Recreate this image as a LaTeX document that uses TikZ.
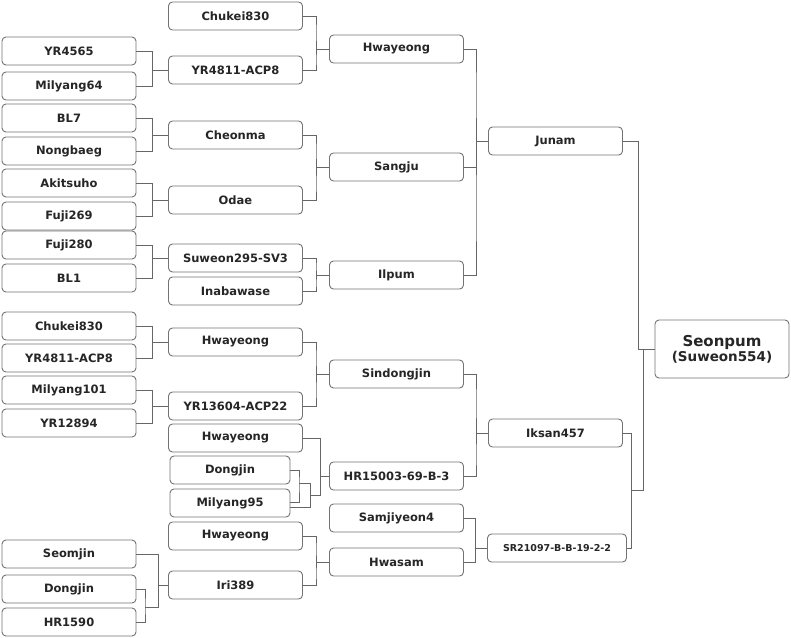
\documentclass[tikz,border=0pt]{standalone}
\usepackage{fontspec}
\setmainfont{DejaVu Sans}
\usetikzlibrary{calc}
\begin{document}
\begin{tikzpicture}[x=1pt,y=-1pt,
  box/.style={draw=black!55,line width=0.9pt,rounded corners=4pt,minimum width=134pt,minimum height=28pt,inner sep=0pt,font=\fontsize{11.5}{13}\selectfont\bfseries,text=black!85,fill=white},
  ln/.style={draw=black!60,line width=0.7pt}]
\useasboundingbox (0,0) rectangle (791,637);
\newcommand{\lk}[2]{\draw[ln] (#1.east) -| ($(#1.east)!.5!(#2.west)$) |- (#2.west);}
% column 1
\node[box] (a1) at (69,51) {YR4565};
\node[box] (a2) at (69,86) {Milyang64};
\node[box] (a3) at (69,118) {BL7};
\node[box] (a4) at (69,151) {Nongbaeg};
\node[box] (a5) at (69,183) {Akitsuho};
\node[box] (a6) at (69,216) {Fuji269};
\node[box] (a7) at (69,245) {Fuji280};
\node[box] (a8) at (69,278) {BL1};
\node[box] (a9) at (69,326) {Chukei830};
\node[box] (a10) at (69,358) {YR4811-ACP8};
\node[box] (a11) at (69,390) {Milyang101};
\node[box] (a12) at (69,423) {YR12894};
\node[box] (a13) at (69,554) {Seomjin};
\node[box] (a14) at (69,589) {Dongjin};
\node[box] (a15) at (69,622) {HR1590};
% column 2
\node[box] (b1) at (235.5,16) {Chukei830};
\node[box] (b2) at (235.5,70) {YR4811-ACP8};
\node[box] (b3) at (235.5,135) {Cheonma};
\node[box] (b4) at (235.5,200) {Odae};
\node[box] (b5) at (235.5,258) {Suweon295-SV3};
\node[box] (b6) at (235.5,291) {Inabawase};
\node[box] (b7) at (235.5,342) {Hwayeong};
\node[box] (b8) at (235.5,406) {YR13604-ACP22};
\node[box] (b9) at (235.5,438) {Hwayeong};
\node[box,minimum width=120pt] (b10) at (230,470) {Dongjin};
\node[box,minimum width=120pt] (b11) at (230,503) {Milyang95};
\node[box] (b12) at (235.5,536) {Hwayeong};
\node[box] (b13) at (235.5,585) {Iri389};
% column 3
\node[box] (c1) at (396.5,49) {Hwayeong};
\node[box] (c2) at (396.5,167) {Sangju};
\node[box] (c3) at (396.5,275) {Ilpum};
\node[box] (c4) at (396.5,374) {Sindongjin};
\node[box] (c5) at (396.5,476) {HR15003-69-B-3};
\node[box] (c6) at (396.5,518) {Samjiyeon4};
\node[box] (c7) at (396.5,562) {Hwasam};
% column 4
\node[box] (d1) at (555.5,141) {Junam};
\node[box] (d2) at (555.5,433) {Iksan457};
\node[box,minimum width=139pt,font=\fontsize{9.5}{11}\selectfont\bfseries] (d3) at (557,548) {SR21097-B-B-19-2-2};
% final
\node[box,minimum height=58pt,align=center] (e) at (722,349) {{\fontsize{15}{18}\selectfont Seonpum}\\[1pt]{\fontsize{13.5}{16}\selectfont (Suweon554)}};
% links
\lk{a1}{b2}\lk{a2}{b2}
\lk{a3}{b3}\lk{a4}{b3}
\lk{a5}{b4}\lk{a6}{b4}
\lk{a7}{b5}\lk{a8}{b5}
\lk{a9}{b7}\lk{a10}{b7}
\lk{a11}{b8}\lk{a12}{b8}
\lk{b1}{c1}\lk{b2}{c1}
\lk{b3}{c2}\lk{b4}{c2}
\lk{b5}{c3}\lk{b6}{c3}
\lk{b7}{c4}\lk{b8}{c4}
\lk{b12}{c7}\lk{b13}{c7}
\lk{c1}{d1}\lk{c2}{d1}\lk{c3}{d1}
\lk{c4}{d2}\lk{c5}{d2}
\lk{c6}{d3}\lk{c7}{d3}
\lk{d1}{e}
% Dongjin / Milyang95 group
\coordinate (m1) at (299,483);
\coordinate (m2) at (310,495);
\draw[ln] (b10.east) -| (m1) -- (299,502) -- (b11.east |- 0,502);
\draw[ln] (m1) -| (m2);
\draw[ln] (b11.east |- 0,507) -| (m2);
\draw[ln] (m2) -- (320,495) |- (c5.west);
\draw[ln] (b9.east) -| (320,495);
% Seomjin / Dongjin / HR1590 group
\coordinate (s1) at (145,607);
\draw[ln] (a14.east) -| (s1) |- (a15.east);
\draw[ln] (s1) -- (158,607) |- (a13.east);
\draw[ln] (158,585) -- (b13.west);
% Iksan / SR group
\coordinate (k1) at (631,490);
\draw[ln] (d2.east) -| (k1) |- (d3.east);
\draw[ln] (k1) -- (643,490) |- (e.west);
\end{tikzpicture}
\end{document}
